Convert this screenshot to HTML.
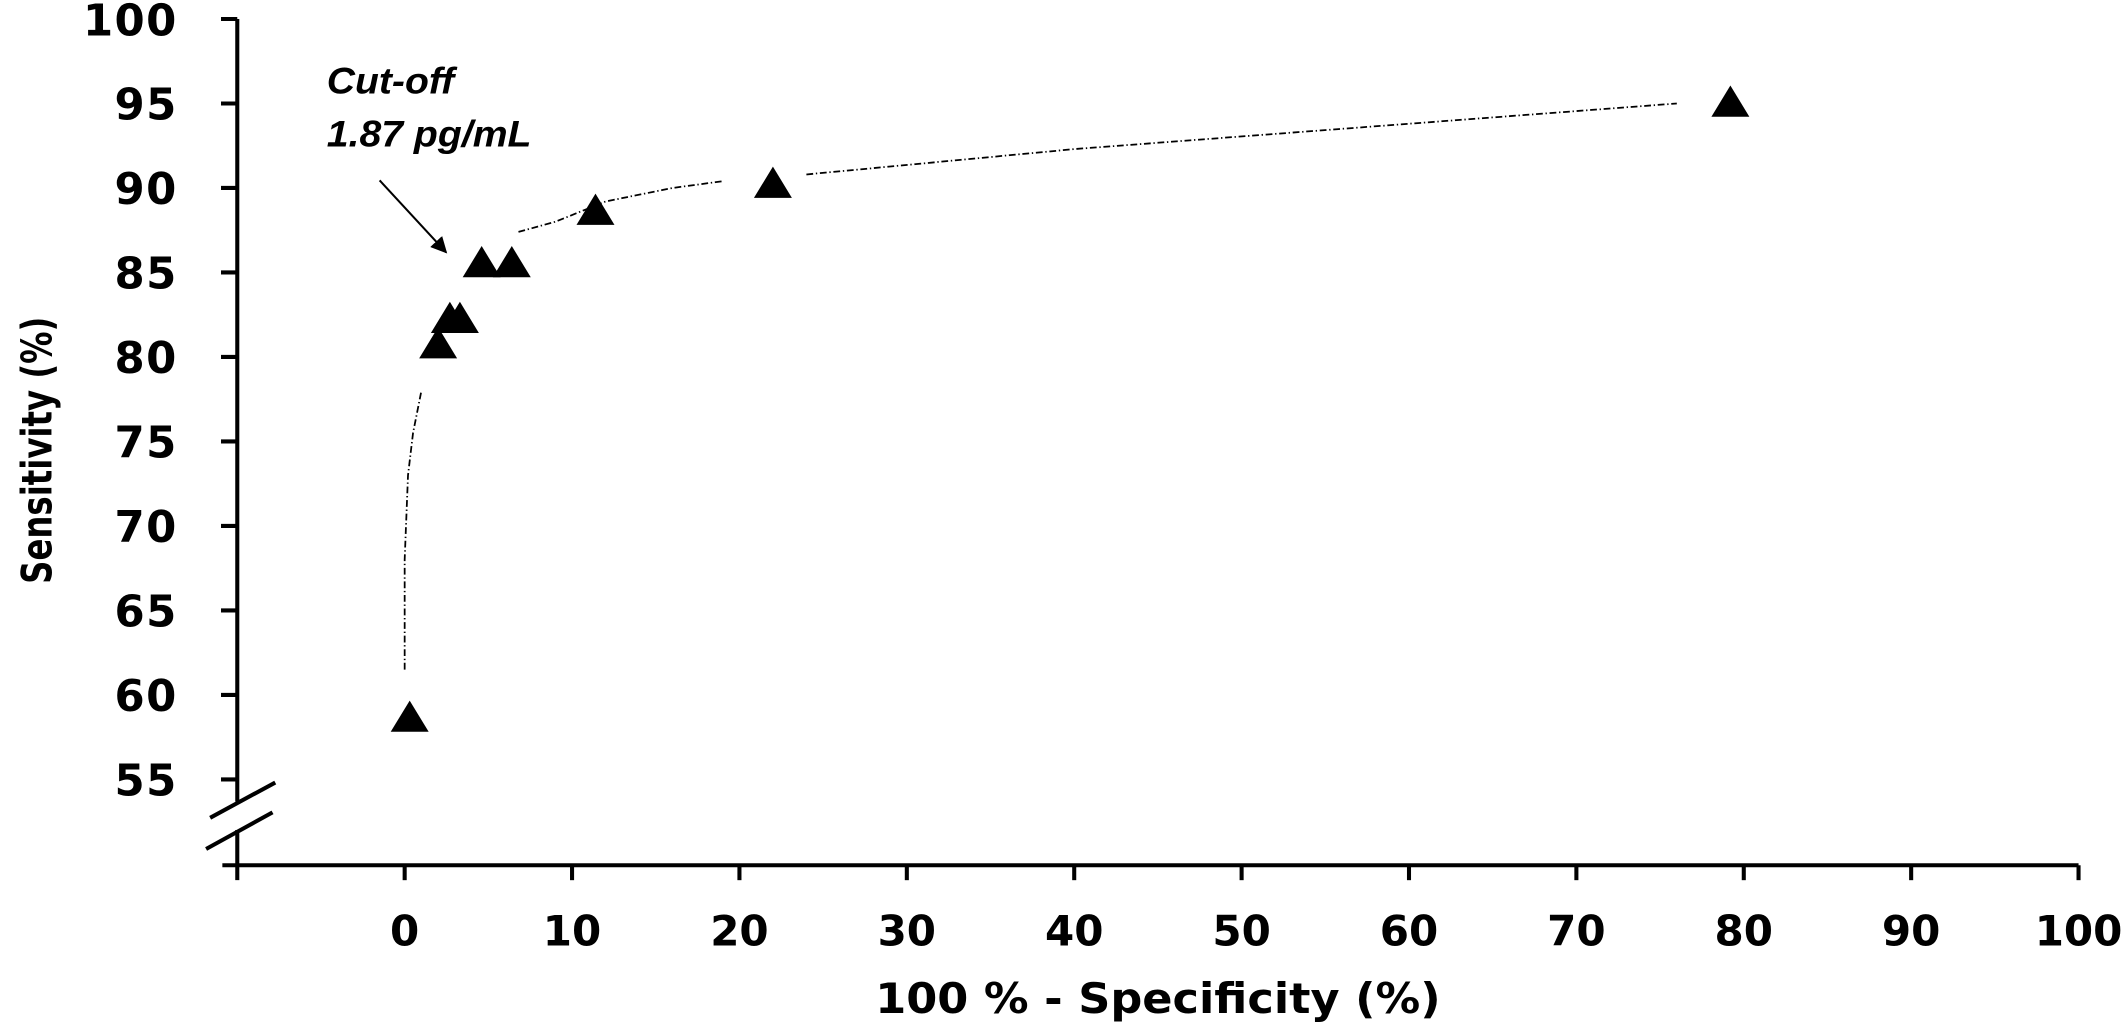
<!DOCTYPE html>
<html><head><meta charset="utf-8"><style>
html,body{margin:0;padding:0;background:#fff;}
svg{display:block;}
text{font-family:"DejaVu Sans",sans-serif;font-weight:bold;fill:#000;}
</style></head><body>
<svg id="chart" width="2126" height="1028" viewBox="0 0 1568 758" preserveAspectRatio="none" xmlns="http://www.w3.org/2000/svg">
<defs><marker id="ah" viewBox="0 0 10 10" refX="9" refY="5" markerWidth="8" markerHeight="8" orient="auto"><path d="M0,0 L10,5 L0,10 z" fill="#000"/></marker></defs>
<g id="axes"></g>
<g id="marks"></g>
<text transform="translate(38,332) rotate(-90)" text-anchor="middle" font-size="31" textLength="197" lengthAdjust="spacingAndGlyphs">Sensitivity (%)</text>
<text x="854" y="747" text-anchor="middle" font-size="31" textLength="417" lengthAdjust="spacingAndGlyphs">100 % - Specificity (%)</text>
<text x="241" y="69" font-size="27" font-style="italic" style="font-family:'Liberation Sans',sans-serif" textLength="94" lengthAdjust="spacingAndGlyphs">Cut-off</text>
<text x="241" y="108" font-size="27" font-style="italic" style="font-family:'Liberation Sans',sans-serif" textLength="151" lengthAdjust="spacingAndGlyphs">1.87 pg/mL</text>
<line x1="280" y1="133" x2="329" y2="186" stroke="#000" stroke-width="1.5" marker-end="url(#ah)"/>
</svg>
<script>
const xVals=[0.3,2,2.7,3.3,4.6,6.4,11.4,22,79.2];
const yVals=[58.7,80.8,82.3,82.3,85.6,85.6,88.7,90.3,95.1];
const xTicks=[0,10,20,30,40,50,60,70,80,90,100];
const yTicks=[55,60,65,70,75,80,85,90,95,100];
const curve1X=[0,0,0.2,0.5,1],curve1Y=[61.5,68,73,75.5,78];
const curve2X=[6.8,9,12,16,19],curve2Y=[87.4,88,89.2,90,90.4];
const curve3X=[24,40,60,76],curve3Y=[90.8,92.3,93.8,95];
const NS='http://www.w3.org/2000/svg';
const sx=v=>175+(v+10)*(1358/110);
const sy=v=>14+(100-v)*12.46;
function mk(t,a,p){const e=document.createElementNS(NS,t);for(const k in a)e.setAttribute(k,a[k]);p.appendChild(e);return e;}
const ax=document.getElementById('axes'),mg=document.getElementById('marks');
let l=mk('line',{x1:175,y1:14,x2:175,y2:591,stroke:'#000','stroke-width':3},ax);


mk('line',{x1:175,y1:612,x2:175,y2:649,stroke:'#000','stroke-width':3},ax);
l=mk('line',{x1:164,y1:638,x2:1533,y2:638,stroke:'#000','stroke-width':3},ax);


mk('line',{x1:155,y1:603,x2:203,y2:577,stroke:'#000','stroke-width':3},ax);
l=mk('line',{x1:152,y1:626,x2:201,y2:599,stroke:'#000','stroke-width':3},ax);


yTicks.forEach(v=>{const y=sy(v);mk('line',{x1:163,y1:y,x2:175,y2:y,stroke:'#000','stroke-width':3},ax);
const t=mk('text',{x:131,y:y+12,'text-anchor':'end','font-size':32,'letter-spacing':1},ax);t.textContent=v;

});
xTicks.forEach(v=>{const x=sx(v);mk('line',{x1:x,y1:638,x2:x,y2:649,stroke:'#000','stroke-width':3},ax);
const t=mk('text',{x:x,y:697,'text-anchor':'middle','font-size':31},ax);t.textContent=v;

});
[[curve1X,curve1Y],[curve2X,curve2Y],[curve3X,curve3Y]].forEach(([xs,ys])=>{
const d=xs.map((v,i)=>(i?'L':'M')+sx(v)+','+sy(ys[i])).join(' ');
const p=mk('path',{d:d,fill:'none',stroke:'#000','stroke-width':1.3,'stroke-dasharray':'5 2 1 2'},mg);

});
xVals.forEach((v,i)=>{const x=sx(v),y=sy(yVals[i]);
const p=mk('polygon',{points:`${x-14},${y+11} ${x+14},${y+11} ${x},${y-12}`,fill:'#000'},mg);

});
</script>
</body></html>
